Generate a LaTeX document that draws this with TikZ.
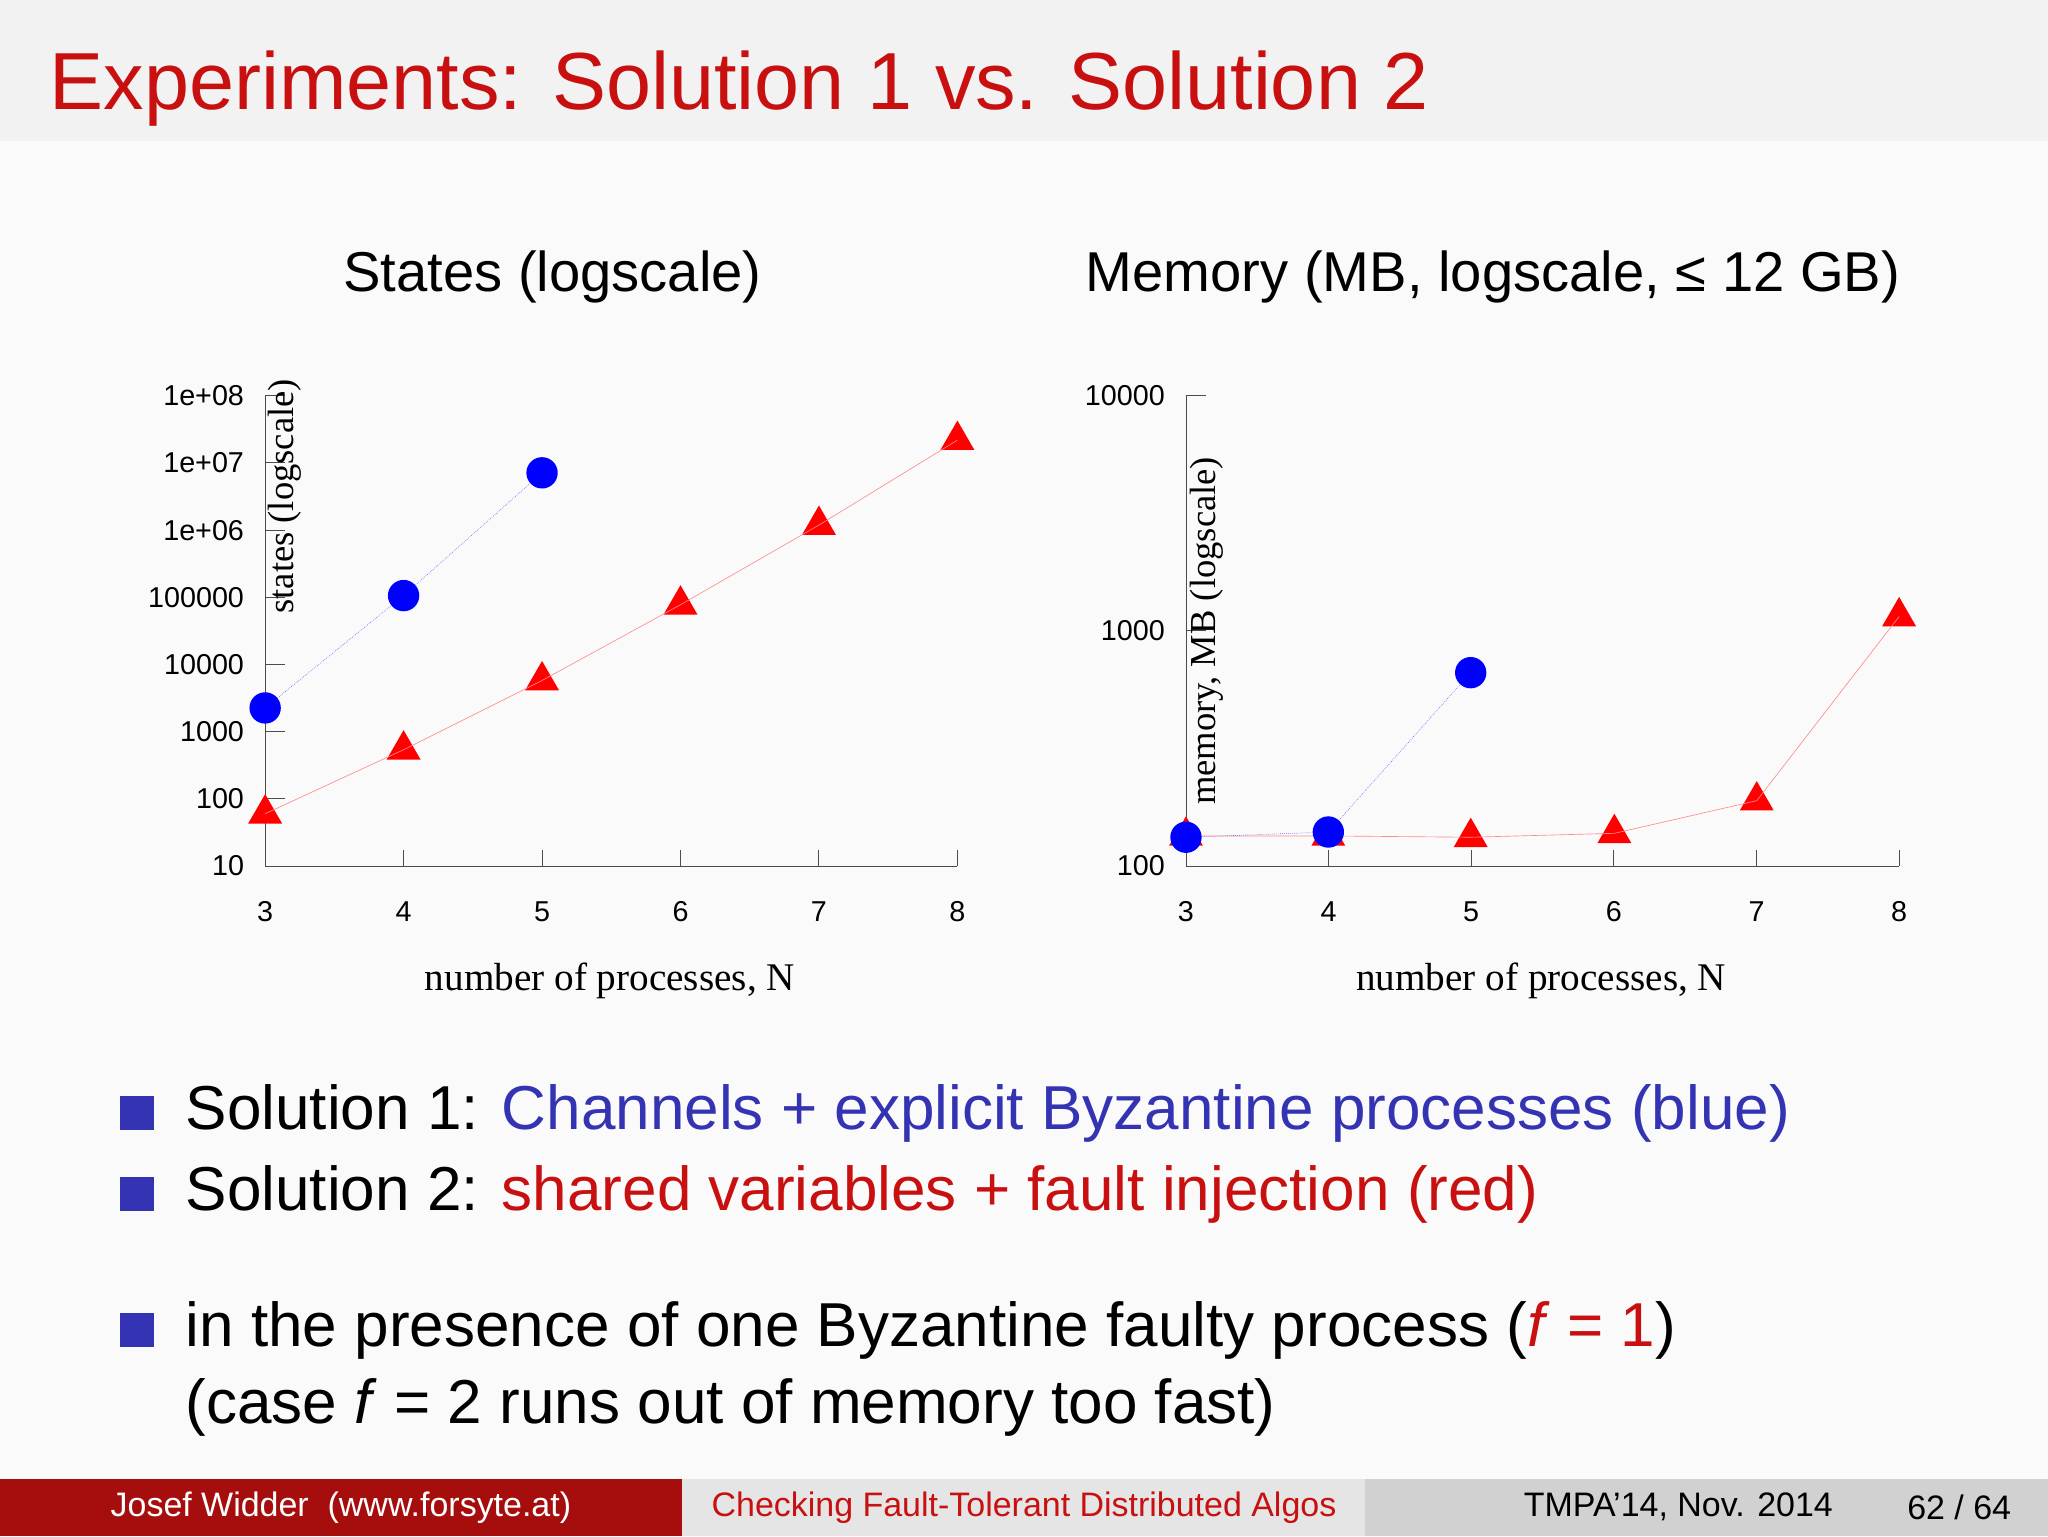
\documentclass[tikz,border=0pt]{standalone}
\usepackage{fontspec}
\setmainfont{Liberation Sans}
\newfontfamily\serif{Liberation Serif}
\usetikzlibrary{shapes.geometric}
\definecolor{tred}{RGB}{200,16,16}
\definecolor{bblue}{RGB}{51,51,179}
\definecolor{ftred}{RGB}{166,14,14}
\tikzset{
 tick/.style={font=\fontsize{22}{24}\selectfont,inner sep=0pt},
 dot/.style={circle,fill=blue,inner sep=0pt,minimum size=24pt},
 tri/.style={regular polygon,regular polygon sides=3,fill=red,inner sep=0pt,minimum size=30pt},
 bl/.style={line width=0.5pt,blue!60,densely dotted},
 rl/.style={line width=0.5pt,red!45},
 ax/.style={line width=0.7pt,black!70},
 sq/.style={fill=bblue,minimum size=26pt,inner sep=0pt},
 body/.style={font=\fontsize{47.5}{52}\selectfont,anchor=base west,inner sep=0pt},
}
\begin{document}
\begin{tikzpicture}[x=1pt,y=-1pt]
\useasboundingbox (0,0) rectangle (1568,1176);
\fill[white!98!black] (0,0) rectangle (1568,1176);
\fill[black!5] (0,0) rectangle (1568,108);
\node[anchor=base west,inner sep=0pt,text=tred,font=\fontsize{62}{70}\selectfont] (title) at (38,84) {Experiments: Solution 1 vs. Solution 2};
% left chart
\node[font=\fontsize{43}{46}\selectfont] (t1) at (423,212) {States (logscale)};
\draw[ax] (203,303) -- (203,663) -- (733,663);
\foreach \i/\l in {0/1e+08,1/1e+07,2/1e+06,3/100000,4/10000,5/1000,6/100,7/10}{
 \draw[ax] (203,303+51.43*\i) -- (218,303+51.43*\i);
 \node[tick,anchor=east] (ly\i) at (187,303+51.43*\i) {\l};}
\foreach \n in {3,...,8}{
 \draw[ax] (203+106*\n-318,663) -- (203+106*\n-318,651);
 \node[tick] (lx\n) at (203+106*\n-318,698) {\n};}
\node[rotate=90,font=\serif\fontsize{28}{30}\selectfont,inner sep=0pt] (ylab1) at (218,380) {states (logscale)};
\node[font=\serif\fontsize{30}{32}\selectfont] (xlab1) at (467,751) {number of processes, N};
\node[tri] (r3) at (203,623) {}; \node[tri] (r4) at (309,574) {}; \node[tri] (r5) at (415,521) {};
\node[tri] (r6) at (521,463) {}; \node[tri] (r7) at (627,402) {}; \node[tri] (r8) at (733,337) {};
\draw[rl] (r3.center)--(r4.center)--(r5.center)--(r6.center)--(r7.center)--(r8.center);
\node[dot] (b3) at (203,542) {}; \node[dot] (b4) at (309,456) {}; \node[dot] (b5) at (415,362) {};
\draw[bl] (b3)--(b4)--(b5);
% right chart
\node[font=\fontsize{43}{46}\selectfont] (t2) at (1143,212) {Memory (MB, logscale, ≤ 12 GB)};
\draw[ax] (908,303) -- (908,663) -- (1454,663);
\foreach \i/\l in {0/10000,1/1000,2/100}{
 \draw[ax] (908,303+180*\i) -- (923,303+180*\i);
 \node[tick,anchor=east] (my\i) at (892,303+180*\i) {\l};}
\foreach \n in {3,...,8}{
 \draw[ax] (908+109.2*\n-327.6,663) -- (908+109.2*\n-327.6,651);
 \node[tick] (mx\n) at (908+109.2*\n-327.6,698) {\n};}
\node[rotate=90,font=\serif\fontsize{28}{30}\selectfont,inner sep=0pt] (ylab2) at (924,483) {memory, MB (logscale)};
\node[font=\serif\fontsize{30}{32}\selectfont] (xlab2) at (1180,751) {number of processes, N};
\node[tri] (s3) at (908,640) {}; \node[tri] (s4) at (1017,640) {}; \node[tri] (s5) at (1126,641) {};
\node[tri] (s6) at (1236,638) {}; \node[tri] (s7) at (1345,613) {}; \node[tri] (s8) at (1454,472) {};
\draw[rl] (s3.center)--(s4.center)--(s5.center)--(s6.center)--(s7.center)--(s8.center);
\node[dot] (c3) at (908,641) {}; \node[dot] (c4) at (1017,637) {}; \node[dot] (c5) at (1126,515) {};
\draw[bl] (c3)--(c4)--(c5);
% bullets
\node[sq] (q1) at (105,852) {};
\node[body] (s1) at (142,865) {Solution 1: \textcolor{bblue}{Channels + explicit Byzantine processes (blue)}};
\node[sq] (q2) at (105,914) {};
\node[body] (s2) at (142,927) {Solution 2: \textcolor{tred}{shared variables + fault injection (red)}};
\node[sq] (q3) at (105,1018) {};
\node[body] (s3t) at (142,1031) {in the presence of one Byzantine faulty process (\textcolor{tred}{\textit{f} = 1})};
\node[body] (s4t) at (142,1090) {(case \textit{f} = 2 runs out of memory too fast)};
% footer
\fill[ftred] (0,1132) rectangle (522,1176);
\fill[black!10] (522,1132) rectangle (1045,1176);
\fill[black!18] (1045,1132) rectangle (1568,1176);
\node[text=white,font=\fontsize{26}{28}\selectfont] (f1) at (261,1154) {Josef Widder\ \ (www.forsyte.at)};
\node[text=tred,font=\fontsize{26}{28}\selectfont] (f2) at (784,1154) {Checking Fault-Tolerant Distributed Algos};
\node[font=\fontsize{26}{28}\selectfont] (f3) at (1285,1154) {TMPA'14, Nov. 2014};
\node[font=\fontsize{26}{28}\selectfont] (f4) at (1500,1154) {62 / 64};
\end{tikzpicture}
\end{document}
